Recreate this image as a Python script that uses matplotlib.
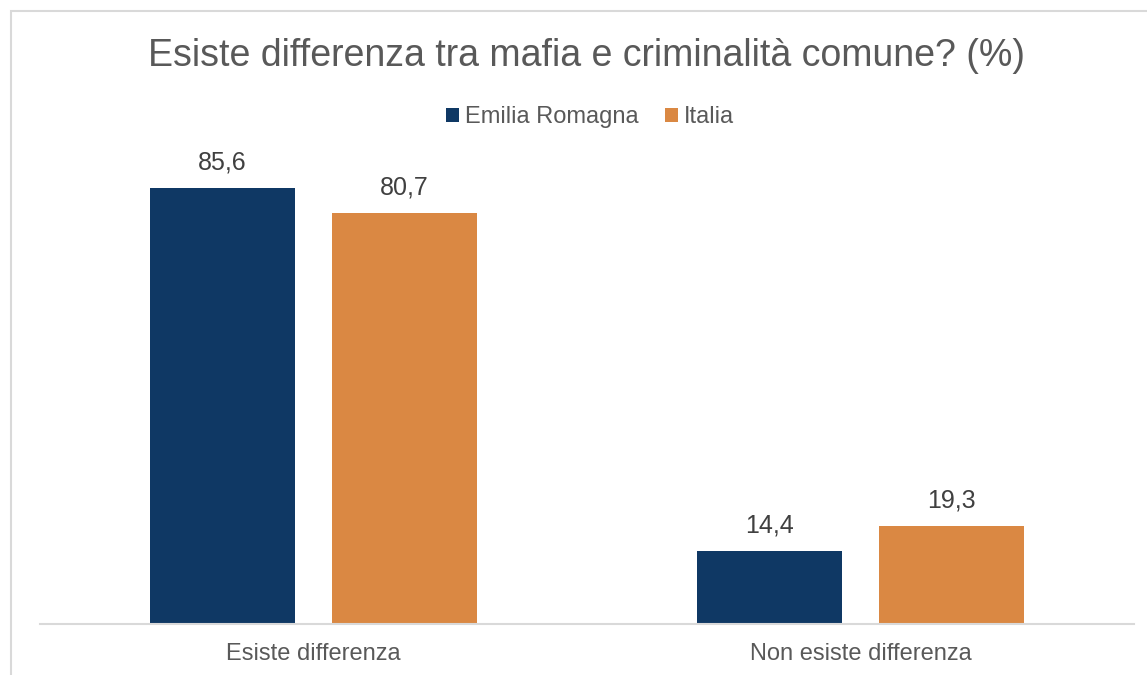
import numpy as np
import matplotlib
matplotlib.use('Agg')
import matplotlib.pyplot as plt
from matplotlib.patches import Rectangle

categories = ['Esiste differenza', 'Non esiste differenza']
series_names = ['Emilia Romagna', 'Italia']
emilia = [85.6, 14.4]
italia = [80.7, 19.3]
colors = ['#0f3864', '#da8843']

plt.rcParams['font.family'] = ['Liberation Sans', 'DejaVu Sans']
text_color = '#595959'

W, H = 1147, 675
fig = plt.figure(figsize=(W / 100, H / 100), dpi=100)

# light frame around chart area (right/bottom edge off-canvas)
fig.patches.append(Rectangle((11 / W, -0.1), 1.2, 1 - 11 / H + 0.1 - 0.0007,
                             transform=fig.transFigure, fill=False,
                             edgecolor='#d9d9d9', linewidth=1.5))

left, right = 40 / W, 1134 / W
bottom = 1 - 624 / H
top = 1 - 114.7 / H
ax = fig.add_axes([left, bottom, right - left, top - bottom])

x = np.arange(len(categories))
bw = 0.265
gap = 0.068
for vals, name, c, off in [(emilia, series_names[0], colors[0], -(bw + gap) / 2),
                           (italia, series_names[1], colors[1], (bw + gap) / 2)]:
    bars = ax.bar(x + off, vals, width=bw, color=c, label=name, zorder=2)
    for b, v in zip(bars, vals):
        ax.text(b.get_x() + b.get_width() / 2, v + 2.6, f'{v:.1f}'.replace('.', ','),
                ha='center', va='bottom', fontsize=18, color='#404040')

ax.set_xlim(-0.5, 1.5)
ax.set_ylim(0, 100)
ax.set_yticks([])
ax.set_xticks(x)
ax.set_xticklabels(categories, fontsize=17, color=text_color)
ax.tick_params(axis='x', length=0, pad=14)
for s in ['top', 'right', 'left']:
    ax.spines[s].set_visible(False)
ax.spines['bottom'].set_color('#d9d9d9')
ax.spines['bottom'].set_linewidth(1.5)

fig.text(586 / W, 1 - 56 / H, 'Esiste differenza tra mafia e criminalità comune? (%)',
         ha='center', va='center', fontsize=27, color=text_color)

leg = fig.legend(loc='center', bbox_to_anchor=(590 / W, 1 - 117 / H), ncol=2,
                 frameon=False, fontsize=17, handlelength=0.55, handleheight=0.55,
                 handletextpad=0.25, columnspacing=1.1)
for t in leg.get_texts():
    t.set_color(text_color)

fig.savefig('out.png', dpi=100)
